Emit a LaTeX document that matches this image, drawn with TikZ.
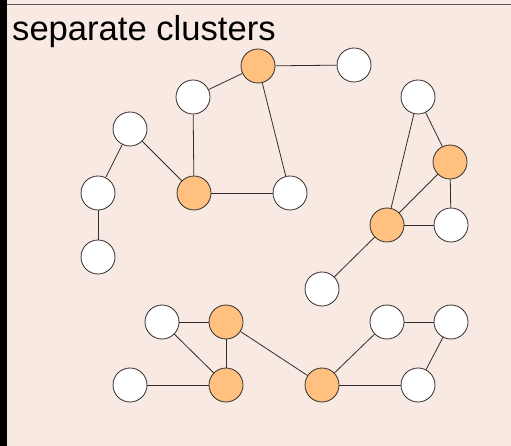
\documentclass[tikz,border=0pt]{standalone}
\usepackage{fontspec}
\setmainfont{Liberation Sans}
\usepackage{tikz}
\usetikzlibrary{calc}
\usepackage{xcolor}
\definecolor{mybg}{RGB}{248,233,227}
\definecolor{myorange}{RGB}{255,192,128}
\definecolor{myedge}{RGB}{50,45,45}
\definecolor{myrule}{RGB}{100,90,90}

\tikzset{
  vert/.style={draw=myedge, circle, fill=white, minimum size=34pt, inner sep=0pt, line width=0.8pt},
  hub/.style={vert, fill=myorange},
  link/.style={draw=myedge, line width=0.8pt}
}

\begin{document}
\begin{tikzpicture}[x=1pt,y=-1pt]
  \useasboundingbox (0,0) rectangle (511,446);
  \fill[mybg] (0,0) rectangle (511,446);
  \fill[black] (0,0) rectangle (7,446);
  \draw[myrule,line width=1.8pt] (7,4.5)--(511,4.5);
  \node[anchor=base west, inner sep=0pt, font=\fontsize{34.6}{40}\selectfont] (title) at (12,41) {separate clusters};

  % first cluster
  \node[hub] (a1) at (258,66) {};
  \node[vert] (a2) at (354,65) {};
  \node[vert] (a3) at (193,97) {};
  \node[hub] (a4) at (194,193) {};
  \node[vert] (a5) at (290,193) {};
  \node[vert] (a6) at (130,129) {};
  \node[vert] (a7) at (98,193) {};
  \node[vert] (a8) at (98,257) {};
  \draw[link] (a1)--(a2);
  \draw[link] (a1)--(a3);
  \draw[link] (a1)--(a5);
  \draw[link] (a3)--(a4);
  \draw[link] (a4)--(a5);
  \draw[link] (a6)--(a4);
  \draw[link] (a6)--(a7);
  \draw[link] (a7)--(a8);

  % second cluster
  \node[vert] (b1) at (418,97) {};
  \node[hub] (b2) at (450,162) {};
  \node[hub] (b3) at (387,225) {};
  \node[vert] (b4) at (451,225) {};
  \node[vert] (b5) at (322,289) {};
  \draw[link] (b1)--(b2);
  \draw[link] (b1)--(b3);
  \draw[link] (b2)--(b3);
  \draw[link] (b2)--(b4);
  \draw[link] (b3)--(b4);
  \draw[link] (b3)--(b5);

  % third cluster
  \node[vert] (c1) at (162,322) {};
  \node[hub] (c2) at (226,322) {};
  \node[vert] (c3) at (130,385) {};
  \node[hub] (c4) at (226,385) {};
  \node[hub] (c5) at (322,385) {};
  \node[vert] (c6) at (387,322) {};
  \node[vert] (c7) at (451,322) {};
  \node[vert] (c8) at (418,385) {};
  \draw[link] (c1)--(c2);
  \draw[link] (c1)--(c4);
  \draw[link] (c2)--(c4);
  \draw[link] (c3)--(c4);
  \draw[link] (c2)--(c5);
  \draw[link] (c5)--(c6);
  \draw[link] (c5)--(c8);
  \draw[link] (c6)--(c7);
  \draw[link] (c7)--(c8);
\end{tikzpicture}
\end{document}
